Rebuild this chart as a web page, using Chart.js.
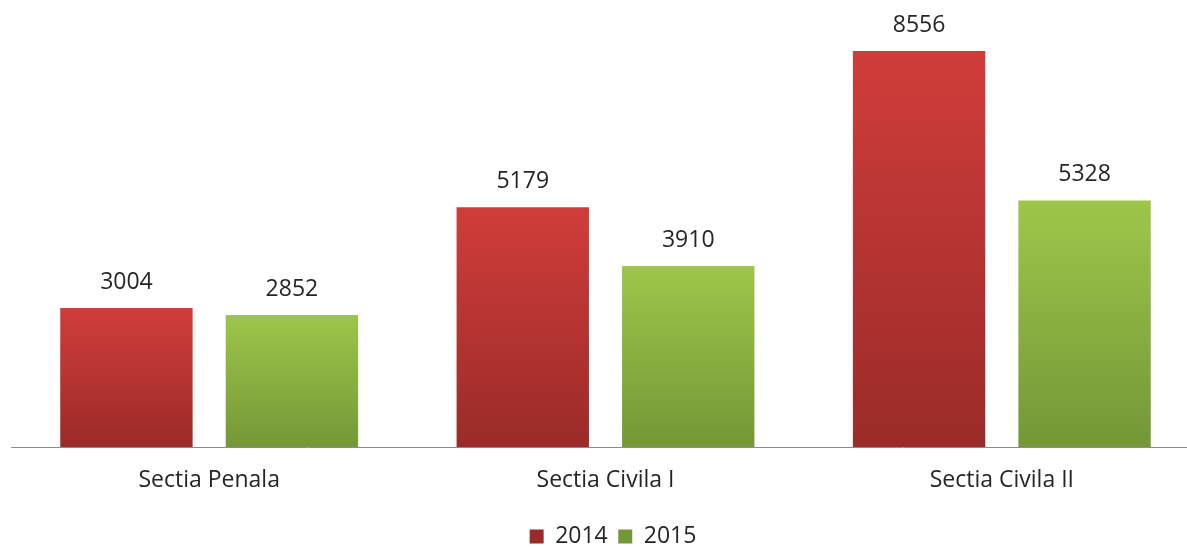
<!DOCTYPE html>
<html>
<head>
<meta charset="utf-8">
<script src="https://cdn.jsdelivr.net/npm/chart.js@4/dist/chart.umd.min.js"></script>
<style>
  html, body { margin: 0; padding: 0; background: #fff; overflow: hidden; }
  #wrap { position: relative; width: 1215px; height: 558px; }
</style>
</head>
<body>
<div id="wrap"><canvas id="chart"></canvas></div>
<script>
// categories and values
var categories = ['Sectia Penala', 'Sectia Civila I', 'Sectia Civila II'];
var series2014 = [3004, 5179, 8556];
var series2015 = [2852, 3910, 5328];
var seriesNames = ['2014', '2015'];

var FONT = "'Open Sans', sans-serif";
var TEXT = '#262626';

// vertical gradient per bar: lighter at the top, darker at the bottom
function barFill(top, bottom, solid) {
    return function (ctx) {
        var chart = ctx.chart;
        if (ctx.type !== 'data' || !chart.chartArea) return solid;
        var y = chart.scales.y;
        var g = chart.ctx.createLinearGradient(0, y.getPixelForValue(ctx.raw), 0, y.getPixelForValue(0));
        g.addColorStop(0, top);
        g.addColorStop(1, bottom);
        return g;
    };
}

// value labels above bars
var valueLabels = {
    id: 'valueLabels',
    afterDatasetsDraw: function (chart) {
        var c = chart.ctx;
        c.save();
        c.font = '23px ' + FONT;
        c.fillStyle = TEXT;
        c.textAlign = 'center';
        c.textBaseline = 'middle';
        chart.data.datasets.forEach(function (ds, i) {
            chart.getDatasetMeta(i).data.forEach(function (bar, j) {
                c.fillText(String(ds.data[j]), bar.x, bar.y - 26);
            });
        });
        c.restore();
    }
};

new Chart(document.getElementById('chart'), {
    type: 'bar',
    data: {
        labels: categories,
        datasets: [{
            label: seriesNames[0],
            data: series2014,
            backgroundColor: barFill('#d03d3a', '#9a2b29', '#c13b39'),
            borderWidth: 0
        }, {
            label: seriesNames[1],
            data: series2015,
            backgroundColor: barFill('#9ec64a', '#749737', '#93bb45'),
            borderWidth: 0
        }]
    },
    options: {
        responsive: true,
        maintainAspectRatio: false,
        animation: false,
        layout: { padding: { left: 11, right: 0, top: 30.5, bottom: 0 } },
        datasets: {
            bar: { categoryPercentage: 0.835, barPercentage: 0.8 }
        },
        scales: {
            x: {
                grid: { display: false, drawTicks: false },
                border: { display: true, color: '#8c8c8c', width: 1 },
                ticks: { font: { family: FONT, size: 23, lineHeight: 2.543 }, color: TEXT, padding: 4.5 }
            },
            y: { display: false, min: 0, max: 9000 },
            // empty right-hand spacer so the legend is centred like the original
            spacer: {
                type: 'linear',
                position: 'right',
                grid: { display: false },
                border: { display: false },
                ticks: { display: false },
                afterFit: function (scale) { scale.width = 15; }
            }
        },
        plugins: {
            tooltip: { enabled: false },
            legend: {
                position: 'bottom',
                labels: {
                    font: { family: FONT, size: 23 },
                    color: TEXT,
                    boxWidth: 14,
                    boxHeight: 14,
                    padding: 10.5
                }
            }
        }
    },
    plugins: [valueLabels]
});
</script>
</body>
</html>
